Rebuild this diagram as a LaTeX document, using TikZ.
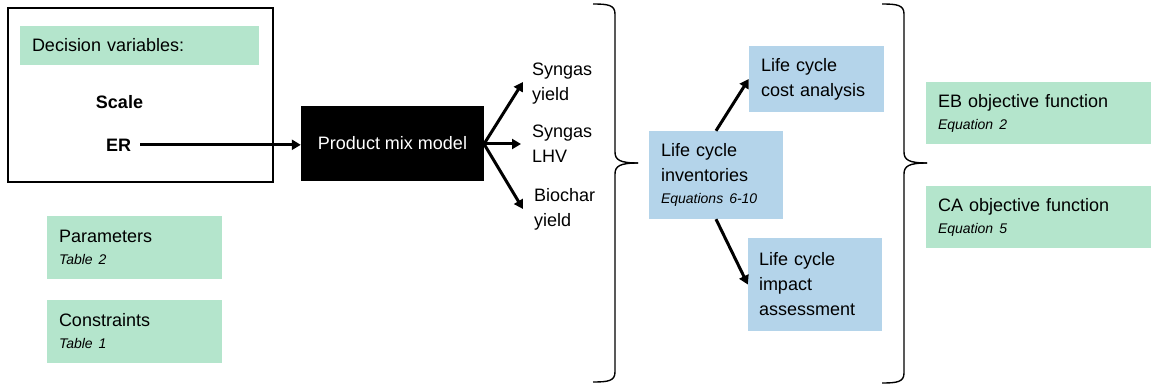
\documentclass[tikz,border=0pt]{standalone}
\usepackage{fontspec}
\setmainfont{Liberation Sans}
\usetikzlibrary{arrows.meta}
\definecolor{boxgreen}{RGB}{180,229,204}
\definecolor{boxblue}{RGB}{180,212,234}
\begin{document}
\begin{tikzpicture}[x=1pt,y=-1pt,
  every node/.style={font=\fontsize{18}{25}\selectfont},
  cbox/.style={rectangle, inner xsep=12pt, inner ysep=0pt, align=left},
  gbox/.style={cbox, fill=boxgreen},
  bbox/.style={cbox, fill=boxblue},
  arr/.style={line width=3pt, -{Triangle[length=9pt,width=10pt]}},
  bracepath/.style={line width=1.4pt},
  lbl/.style={inner sep=0pt, align=left, anchor=west}
]
\useasboundingbox (0,0) rectangle (1151,385);

% decision variables frame
\node[draw, line width=1.4pt, minimum width=265pt, minimum height=174pt, inner sep=0pt] (frame) at (140.5,95) {};
\node[gbox, minimum width=239pt, minimum height=39pt, text width=215pt] (dec) at (139.5,45.5) {Decision variables:};
\node[anchor=base, inner sep=0pt, font=\fontsize{18}{25}\selectfont\bfseries] (scale) at (119.5,109) {Scale};
\node[anchor=base west, inner sep=0pt, font=\fontsize{18}{25}\selectfont\bfseries] (er) at (106,151) {ER};

\node[gbox, minimum width=175pt, minimum height=63pt, text width=151pt] (param) at (134.5,247.5)
  {Parameters\\[-3pt]{\fontsize{14}{17}\selectfont\itshape Table 2}};
\node[gbox, minimum width=175pt, minimum height=63pt, text width=151pt] (cons) at (134.5,331.5)
  {Constraints\\[-3pt]{\fontsize{14}{17}\selectfont\itshape Table 1}};

% product mix model
\node[fill=black, text=white, minimum width=183pt, minimum height=75pt, inner sep=0pt] (pmm) at (392.5,143.5) {Product mix model};
\draw[arr, shorten <=9pt] (er.east) -- (er.east -| pmm.west);

% outputs
\node[lbl] (sy) at (532,84) {Syngas\\yield};
\node[lbl] (sl) at (532,144) {Syngas\\LHV};
\node[lbl] (by) at (534,209) {Biochar\\yield};
\coordinate (sytip) at (523,82);
\coordinate (sltip) at (521,144);
\coordinate (bytip) at (523,209);
\coordinate (pmmout) at (484,144);
\draw[arr] (pmmout) -- (sytip);
\draw[arr] (pmmout) -- (sltip);
\draw[arr] (pmmout) -- (bytip);

% first brace
\draw[bracepath] (593,4) .. controls (608,4) and (615,5) .. (615,14) -- (615,152)
  .. controls (615,160) and (620,163) .. (638,163);
\draw[bracepath] (638,163) .. controls (620,163) and (615,166) .. (615,174) -- (615,372)
  .. controls (615,381) and (608,382) .. (593,382);

% life cycle boxes
\node[bbox, minimum width=134pt, minimum height=88pt, text width=110pt] (lci) at (716,175)
  {Life cycle\\inventories\\[-3pt]{\fontsize{14}{17}\selectfont\itshape Equations 6-10}};
\node[bbox, minimum width=135pt, minimum height=66pt, text width=111pt] (lcc) at (816.5,79)
  {Life cycle\\cost analysis};
\node[bbox, minimum width=134pt, minimum height=93pt, text width=112pt, inner xsep=11pt] (lcia) at (815,284.5)
  {Life cycle\\impact\\assessment};
\draw[arr] (lci.north) -- (lcc.west);
\draw[arr] (lci.south) -- (lcia.west);

% second brace
\draw[bracepath] (882,4) .. controls (897,4) and (904,5) .. (904,14) -- (904,152)
  .. controls (904,160) and (909,163) .. (927,163);
\draw[bracepath] (927,163) .. controls (909,163) and (904,166) .. (904,174) -- (904,373)
  .. controls (904,382) and (897,383) .. (882,383);

% objective functions
\node[gbox, minimum width=225pt, minimum height=62pt, text width=201pt] (eb) at (1038.5,113)
  {EB objective function\\[-3pt]{\fontsize{14}{17}\selectfont\itshape Equation 2}};
\node[gbox, minimum width=225pt, minimum height=62pt, text width=201pt] (ca) at (1038.5,217)
  {CA objective function\\[-3pt]{\fontsize{14}{17}\selectfont\itshape Equation 5}};
\end{tikzpicture}
\end{document}
